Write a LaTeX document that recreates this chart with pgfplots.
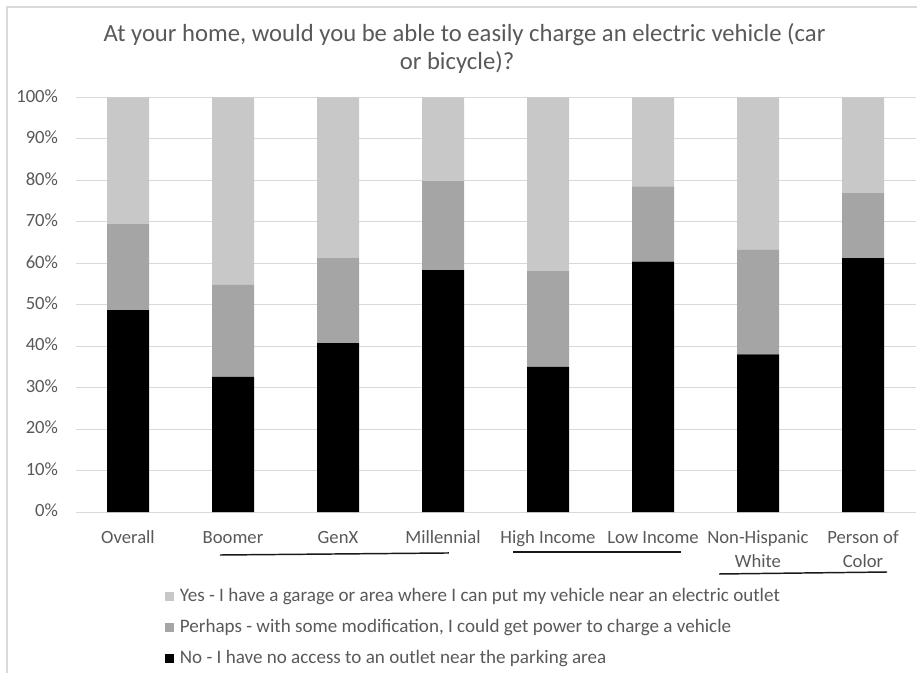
\documentclass[border=0pt]{standalone}
\usepackage{fontspec}
\setmainfont{Carlito}
\usepackage{pgfplots}
\pgfplotsset{compat=1.18}
\definecolor{cYes}{HTML}{C8C8C8}
\definecolor{cPer}{HTML}{A5A5A5}
\definecolor{cNo}{HTML}{000000}
\definecolor{txt}{HTML}{595959}
\definecolor{gridc}{HTML}{D9D9D9}
\begin{document}
\begin{tikzpicture}
\begin{scope}[x=0.75pt,y=-0.75pt]
\useasboundingbox (0,0) rectangle (917,673);
\draw[gridc, line width=0.9pt] (7,673) -- (7,7) -- (917,7);
\node[anchor=base, text=txt, font=\fontsize{18.5}{22}\selectfont, inner sep=0pt] at (464.5,41.7) {At your home, would you be able to easily charge an electric vehicle (car};
\node[anchor=base, text=txt, font=\fontsize{18.5}{22}\selectfont, inner sep=0pt] at (457,70) {or bicycle)?};
\coordinate (O) at (75.5,512);
\end{scope}
\begin{axis}[at={(O)}, anchor=south west, scale only axis,
  width=630pt, height=311pt,
  ybar stacked, bar width=31.5pt,
  xmin=-0.5, xmax=7.5, ymin=0, ymax=100,
  clip=false,
  axis line style={draw=none},
  major tick length=0pt,
  ymajorgrids, major grid style={gridc, line width=0.75pt},
  xtick={0,...,7},
  xticklabels={Overall,Boomer,GenX,Millennial,High Income,Low Income,{Non-Hispanic\\White},{Person of\\Color}},
  typeset ticklabels with strut,
  xticklabel style={font=\fontsize{14}{18}\selectfont, text=txt, align=center, anchor=north, inner sep=0pt, yshift=-10.8pt},
  ytick={0,10,...,100},
  yticklabels={0\%,10\%,20\%,30\%,40\%,50\%,60\%,70\%,80\%,90\%,100\%},
  yticklabel style={font=\fontsize{14}{18}\selectfont, text=txt, anchor=east, inner sep=0pt, xshift=-12.9pt},
  legend cell align=left,
  reverse legend,
  legend image code/.code={\fill[#1] (0pt,-3.15pt) rectangle (6.3pt,3.15pt); \path (11pt,0pt);},
  legend style={at={(0.1065,-0.1826)}, anchor=north west, draw=none, fill=none,
    inner sep=0pt, row sep=10.25pt,
    font=\fontsize{14.3}{17}\selectfont, text=txt,
    nodes={inner sep=0pt, text height=10pt, text depth=3pt}},
]
\addplot[fill=cNo, draw=none] coordinates {(0,48.7) (1,32.6) (2,40.7) (3,58.3) (4,35.0) (5,60.4) (6,38.0) (7,61.2)};
\addplot[fill=cPer, draw=none] coordinates {(0,20.7) (1,22.2) (2,20.5) (3,21.5) (4,23.1) (5,18.1) (6,25.2) (7,15.7)};
\addplot[fill=cYes, draw=none] coordinates {(0,30.6) (1,45.2) (2,38.8) (3,20.2) (4,41.9) (5,21.5) (6,36.8) (7,23.1)};
\legend{No - I have no access to an outlet near the parking area,{Perhaps - with some modification, I could get power to charge a vehicle},Yes - I have a garage or area where I can put my vehicle near an electric outlet}
\draw[line width=1.1pt, black!90] (axis cs:0.876,-10.37) -- (axis cs:3.057,-9.88);
\draw[line width=1.1pt, black!90] (axis cs:3.667,-9.65) -- (axis cs:5.267,-9.65);
\draw[line width=1.1pt, black!90] (axis cs:5.629,-14.95) -- (axis cs:7.229,-14.47);
\end{axis}
\end{tikzpicture}
\end{document}
